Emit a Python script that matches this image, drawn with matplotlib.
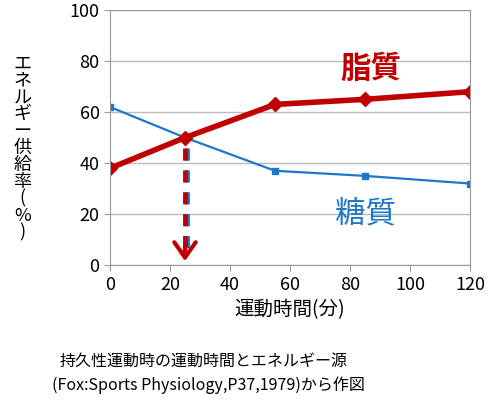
import matplotlib
matplotlib.use("Agg")
import matplotlib.pyplot as plt

plt.rcParams['font.family'] = ['Noto Sans CJK JP', 'DejaVu Sans']

time_fat = [0, 25, 55, 85, 120]
fat = [38, 50, 63, 65, 68]
time_carb = [0, 25, 55, 85, 120]
carb = [62, 50, 37, 35, 32]
cross_x = 25
cross_y = 50

fig = plt.figure(figsize=(5, 4), dpi=100)
ax = fig.add_axes([0.22, 0.337, 0.72, 0.638])
ax.set_xlim(0, 120)
ax.set_ylim(0, 100)
ax.set_xticks(range(0, 121, 20))
ax.set_yticks(range(0, 101, 20))
ax.yaxis.grid(True, color='#bbbbbb', lw=1)
ax.set_axisbelow(True)
for s in ax.spines.values():
    s.set_color('#999999')
ax.tick_params(labelsize=13, length=4, color='#999999')

ax.plot(time_carb, carb, color='#1f77c8', lw=1.6)
ax.plot([time_carb[0]] + time_carb[2:], [carb[0]] + carb[2:], 's', color='#1f77c8', ms=5, ls='none')
ax.plot(time_fat, fat, color='#c00000', lw=4, marker='D', ms=7)

ax.plot([cross_x + 0.7, cross_x + 0.7], [cross_y - 4, 6], color='#1f77c8', lw=3.5, ls=(0, (2.5, 2)))
ax.plot([cross_x, cross_x], [cross_y - 4, 6], color='#c00000', lw=3.5, ls=(0, (2.5, 2)))
ax.annotate('', xy=(cross_x, 0.5), xytext=(cross_x, 9),
            arrowprops=dict(arrowstyle='->,head_length=0.5,head_width=0.35', color='#c00000', lw=3, mutation_scale=22))

ax.text(87, 77, '脂質', color='#c00000', fontsize=22, fontweight='bold', ha='center', va='center')
ax.text(85, 20, '糖質', color='#1f77c8', fontsize=22, ha='center', va='center')

ax.set_xlabel('運動時間(分)', fontsize=14)
ylab = 'エネルギー供給率(%)'
fig.text(0.045, 0.63, '\n'.join(ylab), fontsize=13, ha='center', va='center', linespacing=0.92)

fig.text(0.12, 0.085, '持久性運動時の運動時間とエネルギー源', fontsize=11.5, ha='left')
fig.text(0.105, 0.025, '(Fox:Sports Physiology,P37,1979)から作図', fontsize=11.5, ha='left')

fig.savefig('out.png')
